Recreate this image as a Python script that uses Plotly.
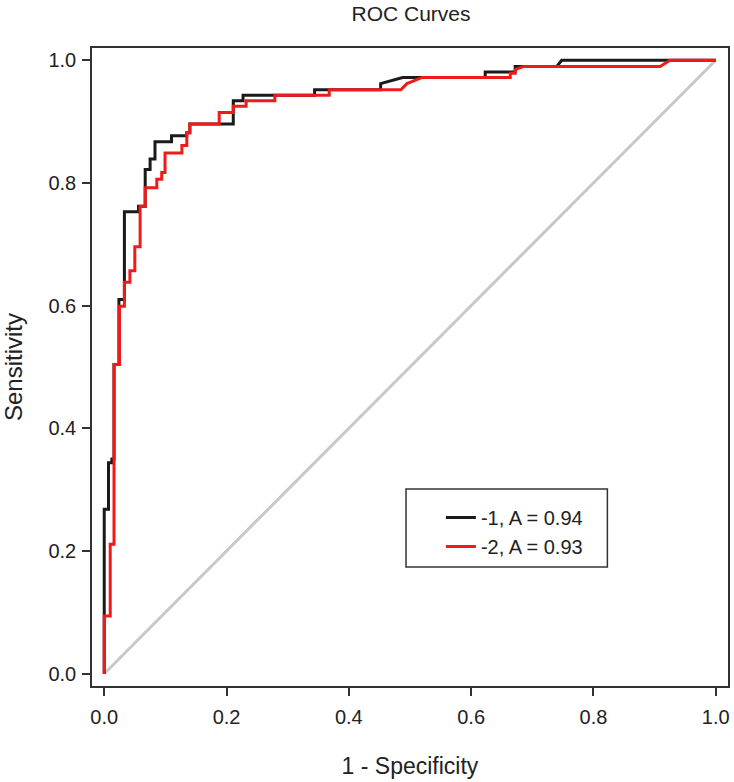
import plotly.graph_objects as go

# ROC curve 1 ("-1"), vertices
fpr_1 = [0, 0, 0.007, 0.007, 0.0125, 0.0125, 0.016, 0.016, 0.024, 0.024,
         0.033, 0.033, 0.056, 0.056, 0.067, 0.067, 0.075, 0.075, 0.083, 0.083,
         0.110, 0.110, 0.135, 0.135, 0.140, 0.140, 0.211, 0.211, 0.227, 0.227,
         0.344, 0.344, 0.452, 0.452, 0.488, 0.623, 0.623, 0.672, 0.672, 0.740,
         0.748, 1.0]
tpr_1 = [0, 0.268, 0.268, 0.344, 0.344, 0.35, 0.35, 0.504, 0.504, 0.61,
         0.61, 0.753, 0.753, 0.762, 0.762, 0.822, 0.822, 0.839, 0.839, 0.867,
         0.867, 0.877, 0.877, 0.882, 0.882, 0.896, 0.896, 0.934, 0.934, 0.943,
         0.943, 0.952, 0.952, 0.962, 0.972, 0.972, 0.981, 0.981, 0.99, 0.99,
         1.0, 1.0]

# ROC curve 2 ("-2")
fpr_2 = [0, 0, 0.0098, 0.0098, 0.016, 0.016, 0.025, 0.025, 0.033, 0.033,
         0.042, 0.042, 0.050, 0.050, 0.0587, 0.0587, 0.067, 0.067, 0.086, 0.086,
         0.094, 0.094, 0.0994, 0.0994, 0.127, 0.127, 0.135, 0.135, 0.140, 0.140,
         0.188, 0.188, 0.211, 0.211, 0.232, 0.232, 0.279, 0.279, 0.368, 0.368,
         0.485, 0.495, 0.52, 0.664, 0.664, 0.672, 0.672, 0.686, 0.909, 0.925, 1.0]
tpr_2 = [0, 0.094, 0.094, 0.211, 0.211, 0.504, 0.504, 0.599, 0.599, 0.638,
         0.638, 0.657, 0.657, 0.696, 0.696, 0.762, 0.762, 0.792, 0.792, 0.806,
         0.806, 0.817, 0.817, 0.849, 0.849, 0.861, 0.861, 0.882, 0.882, 0.896,
         0.896, 0.915, 0.915, 0.925, 0.925, 0.934, 0.934, 0.943, 0.943, 0.952,
         0.952, 0.962, 0.972, 0.972, 0.979, 0.979, 0.985, 0.99, 0.99, 1.0, 1.0]

chance_x = [0, 1]
chance_y = [0, 1]

labels = ["-1, A = 0.94", "-2, A = 0.93"]
ticks = [0.0, 0.2, 0.4, 0.6, 0.8, 1.0]

FONT = "Liberation Sans, Arial, sans-serif"

fig = go.Figure()
fig.add_trace(go.Scatter(x=chance_x, y=chance_y, mode="lines",
                         line=dict(color="#c8c8c8", width=3), showlegend=False,
                         hoverinfo="skip"))
fig.add_trace(go.Scatter(x=fpr_1, y=tpr_1, mode="lines", name=labels[0],
                         line=dict(color="#1a1a1a", width=3)))
fig.add_trace(go.Scatter(x=fpr_2, y=tpr_2, mode="lines", name=labels[1],
                         line=dict(color="#f01a1a", width=3)))

axis_common = dict(
    range=[-0.02, 1.02], tickvals=ticks, tickformat=".1f",
    ticks="outside", ticklen=8, tickwidth=1.5, tickcolor="#333333",
    showline=True, linecolor="#333333", linewidth=1.5, mirror=True,
    showgrid=False, zeroline=False,
    tickfont=dict(family=FONT, size=20, color="#222222"),
)

fig.update_layout(
    width=734, height=782, autosize=False,
    margin=dict(l=92, r=4, t=48, b=96),
    paper_bgcolor="white", plot_bgcolor="white",
    font=dict(family=FONT, color="#222222"),
    title=dict(text="ROC Curves", x=411 / 734, xanchor="center",
               y=1 - 14 / 782, yanchor="middle", yref="container",
               font=dict(family=FONT, size=21, color="#222222")),
    xaxis=dict(**axis_common, ticklabelstandoff=4,
               title=dict(text="1 - Specificity", standoff=31,
                          font=dict(family=FONT, size=23, color="#222222"))),
    yaxis=dict(**axis_common, ticklabelstandoff=2,
               title=dict(text="Sensitivity", standoff=24,
                          font=dict(family=FONT, size=24, color="#222222"))),
    legend=dict(x=(442 - 92) / 638, xanchor="left",
                y=(686 - 498) / 638, yanchor="top",
                bgcolor="rgba(0,0,0,0)", borderwidth=0,
                font=dict(family=FONT, size=20, color="#222222")),
    shapes=[dict(type="rect", xref="paper", yref="paper",
                 x0=(407 - 92) / 638, x1=(609 - 92) / 638,
                 y0=(686 - 567) / 638, y1=(686 - 489) / 638,
                 line=dict(color="#333333", width=1.5),
                 fillcolor="rgba(0,0,0,0)", layer="above")],
)

fig.write_html(
    "out.html",
    config={"displayModeBar": False},
    post_script="document.body.style.margin='0';"
                "document.body.style.overflow='hidden';",
)
